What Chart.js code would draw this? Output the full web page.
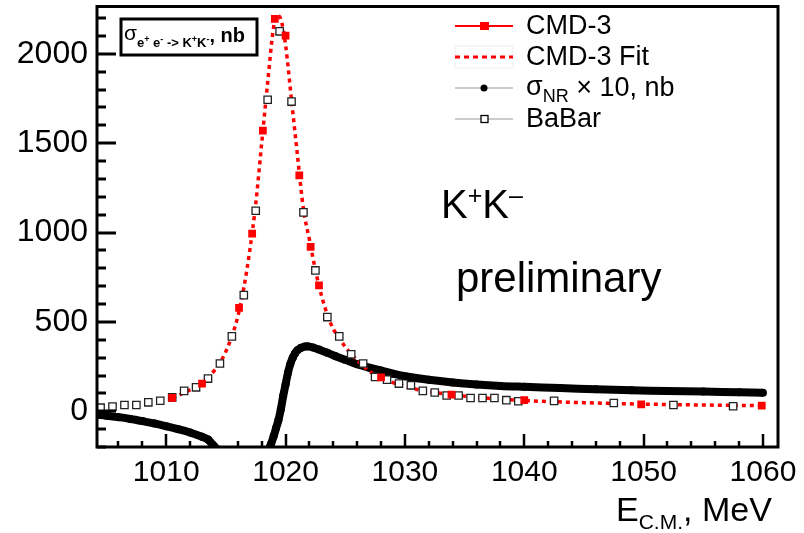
<!DOCTYPE html>
<html lang="en">
<head>
    <meta charset="UTF-8">
    <title>K+K- cross section</title>
    <script src="https://cdn.jsdelivr.net/npm/chart.js"></script>
    <style>
        body {
            margin: 0;
            padding: 0;
            background-color: white;
        }
        #wrap {
            width: 804px;
            height: 533px;
        }
    </style>
</head>
<body>
    <div id="wrap">
        <canvas id="kk" width="804" height="533"></canvas>
    </div>

    <script>
        // CMD-3 data points
        var cmdE  = [1010.5, 1013.0, 1016.1, 1017.2, 1018.1, 1019.1, 1020.0, 1021.15, 1022.1, 1022.8, 1028.0, 1033.9, 1040.0, 1049.8, 1059.9];
        var cmdXs = [75, 155, 579, 994, 1571, 2196, 2102, 1320, 920, 705, 190, 93, 62, 39, 32];

        // CMD-3 fit curve
        var fitE  = [1010.5, 1011, 1011.5, 1012, 1012.5, 1013, 1013.5, 1014, 1014.5, 1015, 1015.5, 1016, 1016.5, 1017, 1017.5, 1018, 1018.5, 1019, 1019.3, 1019.6, 1020, 1020.5, 1021, 1021.5, 1022, 1022.5, 1023, 1023.5, 1024, 1024.5, 1025, 1025.5, 1026, 1026.5, 1027, 1028, 1029, 1030, 1031, 1032, 1034, 1036, 1038, 1040, 1045, 1050, 1055, 1060];
        var fitXs = [75, 88, 103, 120, 138, 160, 190, 225, 270, 335, 420, 530, 690, 900, 1160, 1500, 1840, 2150, 2215, 2195, 2050, 1740, 1430, 1130, 960, 790, 650, 540, 460, 410, 360, 320, 285, 255, 225, 188, 160, 140, 122, 110, 92, 78, 68, 60, 48, 40, 35, 31];

        // sigma_NR x 10, two branches
        var nrLeftE  = [1004.2, 1005, 1006, 1007, 1008, 1009, 1010, 1011, 1012, 1013, 1013.5, 1014, 1014.5];
        var nrLeftXs = [-20, -25, -33, -43, -55, -68, -84, -100, -119, -143, -158, -195, -225];
        var nrRightE  = [1018.6, 1018.8, 1019.0, 1019.2, 1019.4, 1019.6, 1019.8, 1020.0, 1020.2, 1020.4, 1020.6, 1020.8, 1021.0, 1021.3, 1021.6, 1021.9, 1022.3, 1022.8, 1023.5, 1024.2, 1025, 1026, 1027, 1028, 1029, 1030, 1032, 1034, 1036, 1038, 1040, 1043, 1046, 1049, 1052, 1055, 1058, 1060];
        var nrRightXs = [-210, -180, -140, -95, -50, 10, 85, 150, 215, 265, 300, 325, 342, 355, 362, 363, 357, 345, 327, 308, 288, 263, 244, 228, 210, 196, 176, 161, 150, 142, 137, 130, 123, 118, 113, 110, 106, 104];

        // BaBar
        var babarE  = [1004.5, 1005.5, 1006.5, 1007.5, 1008.5, 1009.5, 1010.5, 1011.5, 1012.5, 1013.5, 1014.5, 1015.5, 1016.5, 1017.5, 1018.5, 1019.5, 1020.5, 1021.5, 1022.5, 1023.5, 1024.5, 1025.5, 1026.5, 1027.5, 1028.5, 1029.5, 1030.5, 1031.5, 1032.5, 1033.5, 1034.5, 1035.5, 1036.5, 1037.5, 1038.5, 1039.5, 1042.5, 1047.5, 1052.5, 1057.5];
        var babarXs = [20, 26, 35, 35, 50, 59, 78, 114, 134, 183, 267, 419, 650, 1122, 1743, 2126, 1733, 1113, 788, 527, 419, 319, 267, 192, 177, 155, 145, 114, 105, 88, 88, 74, 74, 74, 62, 56, 58, 46, 35, 28];

        var xTicks = [1010, 1020, 1030, 1040, 1050, 1060];
        var yTicks = [0, 500, 1000, 1500, 2000];

        function pts(xs, ys) {
            return xs.map(function (x, i) { return { x: x, y: ys[i] }; });
        }

        var nrData = pts(nrLeftE, nrLeftXs).concat([{ x: 1016.5, y: null }], pts(nrRightE, nrRightXs));

        var FONT = "'Liberation Sans', Arial, sans-serif";

        // text made of pieces (sub/superscripts)
        function drawSeq(ctx, x, y, segs) {
            segs.forEach(function (s) {
                ctx.font = s[1] + ' ' + FONT;
                ctx.fillText(s[0], x, y + (s[2] || 0));
                x += ctx.measureText(s[0]).width;
            });
        }

        // frame, inner ticks, legend and labels
        var rootStyle = {
            id: 'rootStyle',
            afterDraw: function (chart) {
                var ctx = chart.ctx;
                var a = chart.chartArea;
                var xs = chart.scales.x, ys = chart.scales.y;
                ctx.save();
                ctx.strokeStyle = '#000';

                // ticks
                ctx.lineWidth = 2.5;
                ctx.beginPath();
                for (var v = 1006; v <= 1060; v += 2) {
                    var px = Math.round(xs.getPixelForValue(v));
                    var len = (v % 10 === 0) ? 13 : 6;
                    ctx.moveTo(px, a.bottom);
                    ctx.lineTo(px, a.bottom - len);
                }
                ctx.stroke();
                ctx.lineWidth = 3;
                ctx.beginPath();
                for (var w = -200; w <= 2200; w += 100) {
                    var py = Math.round(ys.getPixelForValue(w));
                    var l2 = (w % 500 === 0) ? 19 : 9;
                    ctx.moveTo(a.left, py);
                    ctx.lineTo(a.left + l2, py);
                }
                ctx.stroke();

                // frame
                ctx.lineWidth = 3;
                ctx.strokeRect(a.left, a.top, a.right - a.left, a.bottom - a.top);

                // title box
                ctx.fillStyle = '#fff';
                ctx.fillRect(121, 19, 136, 36);
                ctx.strokeRect(121, 19, 136, 36);
                ctx.fillStyle = '#000';
                ctx.textBaseline = 'alphabetic';
                ctx.textAlign = 'left';
                drawSeq(ctx, 124, 40, [
                    ['σ', '21px'],
                    ['e', 'bold 13px', 7], ['+', 'bold 9px', 2], [' e', 'bold 13px', 7], ['-', 'bold 9px', 2],
                    [' -> K', 'bold 13px', 7], ['+', 'bold 9px', 2], ['K', 'bold 13px', 7], ['-', 'bold 9px', 2],
                    [', nb', 'bold 20px', 2]
                ]);

                // legend
                var lx0 = 455, lx1 = 513, tx = 526;
                var rows = [26, 57, 88, 119];
                ctx.textBaseline = 'middle';

                // CMD-3
                ctx.strokeStyle = '#ff0000';
                ctx.lineWidth = 2;
                ctx.beginPath(); ctx.moveTo(lx0, rows[0]); ctx.lineTo(lx1, rows[0]); ctx.stroke();
                ctx.fillStyle = '#ff0000';
                ctx.fillRect(480, rows[0] - 4, 9, 8);
                ctx.fillStyle = '#000';
                ctx.font = '27px ' + FONT;
                ctx.fillText('CMD-3', tx, rows[0] + 1);

                // CMD-3 Fit
                ctx.strokeStyle = '#eeeeee';
                ctx.lineWidth = 1;
                ctx.strokeRect(lx0, rows[1] - 11, lx1 - lx0, 22);
                ctx.strokeStyle = '#ff0000';
                ctx.lineWidth = 3;
                ctx.setLineDash([5, 4]);
                ctx.beginPath(); ctx.moveTo(lx0, rows[1]); ctx.lineTo(lx1, rows[1]); ctx.stroke();
                ctx.setLineDash([]);
                ctx.fillText('CMD-3 Fit', tx, rows[1] + 1);

                // sigma NR
                ctx.strokeStyle = '#999999';
                ctx.lineWidth = 1;
                ctx.beginPath(); ctx.moveTo(lx0, rows[2]); ctx.lineTo(lx1, rows[2]); ctx.stroke();
                ctx.fillStyle = '#000';
                ctx.beginPath(); ctx.arc(484, rows[2], 3.5, 0, Math.PI * 2); ctx.fill();
                drawSeq(ctx, tx, rows[2], [
                    ['σ', '27px'], ['NR', '18px', 9], [' × 10, nb', '27px', 1]
                ]);

                // BaBar
                ctx.strokeStyle = '#999999';
                ctx.beginPath(); ctx.moveTo(lx0, rows[3]); ctx.lineTo(lx1, rows[3]); ctx.stroke();
                ctx.fillStyle = '#fff';
                ctx.fillRect(481, rows[3] - 3.5, 7, 7);
                ctx.strokeStyle = '#000';
                ctx.lineWidth = 1.3;
                ctx.strokeRect(481, rows[3] - 3.5, 7, 7);
                ctx.fillStyle = '#000';
                ctx.font = '27px ' + FONT;
                ctx.fillText('BaBar', tx, rows[3] + 1);

                // K+K- and preliminary
                ctx.textBaseline = 'alphabetic';
                drawSeq(ctx, 441, 218, [
                    ['K', '40px'], ['+', '25px', -14], ['K', '40px'], ['–', '25px', -14]
                ]);
                ctx.font = '42px ' + FONT;
                ctx.fillText('preliminary', 456, 292);

                // x axis title
                drawSeq(ctx, 616, 521, [
                    ['E', '34px'], ['C.M.', '21px', 8], [', MeV', '34px']
                ]);

                ctx.restore();
            }
        };

        var ctx = document.getElementById('kk').getContext('2d');
        var kkChart = new Chart(ctx, {
            type: 'scatter',
            data: {
                datasets: [{
                    label: 'σNR × 10, nb',
                    data: nrData,
                    showLine: true,
                    spanGaps: false,
                    borderColor: '#000',
                    backgroundColor: '#000',
                    borderWidth: 8,
                    pointBorderWidth: 0,
                    pointRadius: 4,
                    pointStyle: 'circle',
                    tension: 0.3,
                    order: 4
                }, {
                    label: 'CMD-3 Fit',
                    data: pts(fitE, fitXs),
                    showLine: true,
                    borderColor: '#ff0000',
                    borderWidth: 3.5,
                    borderDash: [4, 4],
                    cubicInterpolationMode: 'monotone',
                    pointRadius: 0,
                    order: 3
                }, {
                    label: 'BaBar',
                    data: pts(babarE, babarXs),
                    showLine: false,
                    pointStyle: 'rect',
                    pointRadius: 5.2,
                    borderColor: '#222',
                    borderWidth: 1.3,
                    backgroundColor: '#fff',
                    order: 2
                }, {
                    label: 'CMD-3',
                    data: pts(cmdE, cmdXs),
                    showLine: false,
                    pointStyle: 'rect',
                    pointRadius: 5.5,
                    borderColor: '#ff0000',
                    borderWidth: 0,
                    backgroundColor: '#ff0000',
                    order: 1
                }]
            },
            options: {
                responsive: false,
                animation: false,
                devicePixelRatio: 1,
                layout: {
                    padding: { top: 6, right: 26, left: 0, bottom: 0 }
                },
                plugins: {
                    legend: { display: false },
                    tooltip: { enabled: false }
                },
                scales: {
                    x: {
                        type: 'linear',
                        min: 1004.2,
                        max: 1061.26,
                        grid: { display: false, drawTicks: false },
                        border: { display: false },
                        afterBuildTicks: function (scale) {
                            scale.ticks = xTicks.map(function (v) { return { value: v }; });
                        },
                        afterFit: function (scale) {
                            scale.height = 86;
                            scale.paddingLeft = 0;
                            scale.paddingRight = 0;
                        },
                        ticks: {
                            autoSkip: false,
                            maxRotation: 0,
                            padding: 8,
                            color: '#000',
                            font: { family: FONT, size: 30 },
                            callback: function (v) { return String(v); }
                        }
                    },
                    y: {
                        type: 'linear',
                        min: -200,
                        max: 2265,
                        grid: { display: false, drawTicks: false },
                        border: { display: false },
                        afterBuildTicks: function (scale) {
                            scale.ticks = yTicks.map(function (v) { return { value: v }; });
                        },
                        afterFit: function (scale) {
                            scale.width = 97;
                            scale.paddingTop = 0;
                            scale.paddingBottom = 0;
                        },
                        ticks: {
                            padding: 9,
                            color: '#000',
                            font: { family: FONT, size: 32 },
                            callback: function (v) { return String(v); }
                        }
                    }
                }
            },
            plugins: [rootStyle]
        });
    </script>
</body>
</html>
